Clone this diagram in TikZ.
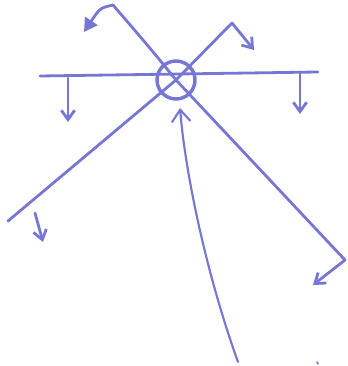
\documentclass[tikz,border=0pt]{standalone}
\usetikzlibrary{arrows.meta}
\definecolor{pen}{RGB}{118,118,212}
\begin{document}
\begin{tikzpicture}[x=0.75pt,y=-0.75pt,
  stroke/.style={draw=pen,line width=2.1pt,line cap=round,line join=round},
  barb/.style={stroke,-{Straight Barb[length=7pt,width=10pt]}},
  filledtip/.style={stroke,-{Triangle[length=10pt,width=11pt,fill=pen]}}]
\useasboundingbox (0,0) rectangle (348,366);
% named points
\node[circle,draw=pen,line width=2.6pt,inner sep=0pt,minimum size=28.5pt] (c) at (176,80) {};
\coordinate (hl) at (40,76);
\coordinate (hr) at (318,72);
\coordinate (d1a) at (113,5);
\coordinate (d1b) at (345,260);
\coordinate (d2a) at (232,23);
\coordinate (d2b) at (8,221);
\coordinate (t1) at (84,32);
\coordinate (t2) at (254,50);
\coordinate (t3) at (313,285);
\coordinate (l1) at (68,78);
\coordinate (l1e) at (68,122);
\coordinate (r1) at (300,72);
\coordinate (r1e) at (300,114);
\coordinate (s1) at (35,213);
\coordinate (s1e) at (43,242);
\coordinate (b0) at (238,362);
\coordinate (bt) at (180,108);
\coordinate (dot) at (317,362);
% main lines
\draw[stroke] (hl) -- (hr);
\draw[stroke] (d1a) .. controls (150,48) .. (c.center) -- (d1b);
\draw[stroke] (d2a) -- (c.center) -- (d2b);
% arrows
\draw[filledtip] (d1a) .. controls (100,8) .. (t1);
\draw[barb] (d2a) -- (t2);
\draw[barb] (d1b) -- (t3);
\draw[barb] (l1) -- (l1e);
\draw[barb] (r1) -- (r1e);
\draw[barb] (s1) -- (s1e);
\draw[stroke,line width=1.6pt,-{Straight Barb[length=9pt,width=14pt]}] (b0) .. controls (205,270) and (185,170) .. (bt);
\draw[stroke,line width=1.2pt] (dot) -- (318,364);
\end{tikzpicture}
\end{document}
